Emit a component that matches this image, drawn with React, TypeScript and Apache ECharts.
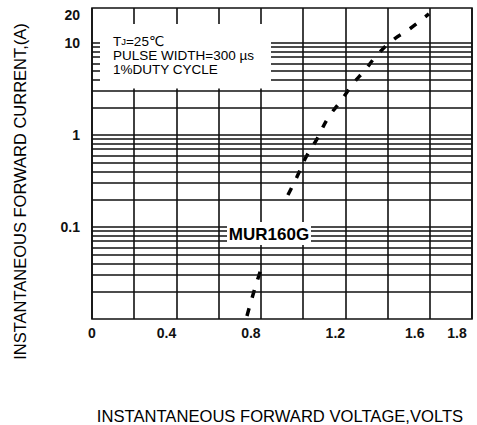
import { useEffect, useRef } from "react";
import * as echarts from "echarts";

// Axis tick labels
const xTickLabels = [0, 0.4, 0.8, 1.2, 1.6, 1.8];
const yTickLabels = [0.1, 1, 10, 20];

// Horizontal log grid lines (A)
const gridCurrents = [
  0.02, 0.03, 0.04, 0.05, 0.06, 0.07, 0.08, 0.09, 0.1,
  0.2, 0.3, 0.4, 0.5, 0.6, 0.7, 0.8, 0.9, 1,
  2, 3, 4, 5, 6, 7, 8, 9, 10,
];

// MUR160G forward characteristic, Tj = 25°C
const lowVoltage = [0.734, 0.772, 0.81];
const lowCurrent = [0.0108, 0.0217, 0.0406];
const highVoltage = [0.928, 0.971, 1.014, 1.066, 1.118, 1.175, 1.236, 1.293, 1.355, 1.426, 1.497, 1.596];
const highCurrent = [0.223, 0.351, 0.577, 0.905, 1.53, 2.28, 3.58, 5.09, 7.59, 10.8, 13.8, 20.7];

const FONT = "'Liberation Sans', Arial, 'DejaVu Sans', sans-serif";

export default function App() {
  const ref = useRef<HTMLDivElement>(null);

  useEffect(() => {
    if (!ref.current) return;
    const chart = echarts.init(ref.current, undefined, { renderer: "svg" });
    const lineCol = "#111";
    const curveStyle = { color: "#000", width: 3.5, type: [8, 11] as any };
    const tickFont = { fontFamily: FONT, fontSize: 14, fontWeight: "bold", color: "#111" };

    chart.setOption({
      animation: false,
      backgroundColor: "#fff",
      grid: {
        left: 92,
        right: 5,
        top: 8,
        bottom: 106,
        show: true,
        borderColor: lineCol,
        borderWidth: 1.6,
        backgroundColor: "transparent",
      },
      xAxis: {
        type: "value",
        min: 0,
        max: 1.8,
        interval: 0.2,
        axisLine: { show: false },
        axisTick: { show: false },
        splitLine: { show: true, lineStyle: { color: lineCol, width: 1.6 } },
        axisLabel: {
          customValues: xTickLabels,
          margin: 7,
          ...tickFont,
          formatter: (v: number) => {
            const s = String(v);
            if (v === 0) return s;
            return v >= 1.5 ? `{far|${s}}` : `{near|${s}}`;
          },
          rich: {
            near: { padding: [0, 20, 0, 0], ...tickFont },
            far: { padding: [0, 30, 0, 0], ...tickFont },
          },
        },
      },
      yAxis: {
        type: "log",
        logBase: 10,
        min: 0.01,
        max: 24,
        axisLine: { show: false },
        axisTick: { show: false },
        splitLine: { show: false },
        axisLabel: {
          customValues: yTickLabels,
          margin: 12,
          ...tickFont,
          formatter: (v: number) => String(v),
        },
      },
      series: [
        {
          type: "line",
          name: "low",
          data: lowVoltage.map((v, i) => [v, lowCurrent[i]]),
          showSymbol: false,
          smooth: true,
          z: 3,
          lineStyle: curveStyle,
          markLine: {
            silent: true,
            symbol: ["none", "none"],
            label: { show: false },
            lineStyle: { color: lineCol, width: 1.6, type: "solid" },
            data: gridCurrents.map((c) => ({ yAxis: c })),
          },
        },
        {
          type: "line",
          name: "high",
          data: highVoltage.map((v, i) => [v, highCurrent[i]]),
          showSymbol: false,
          smooth: true,
          z: 4,
          lineStyle: curveStyle,
        },
      ],
      graphic: [
        { type: "rect", z: 10, shape: { x: 100, y: 24, width: 171, height: 64.5 }, style: { fill: "#fff" } },
        { type: "rect", z: 10, shape: { x: 227, y: 222, width: 84, height: 23 }, style: { fill: "#fff" } },
        {
          type: "text", z: 11, x: 269, y: 234.5,
          style: { text: "MUR160G", font: `bold 17px ${FONT}`, fill: "#000", textAlign: "center", textVerticalAlign: "middle", align: "center", verticalAlign: "middle" },
        },
        {
          type: "text", z: 11, x: 113, y: 34.5,
          style: {
            text: "T{s|J}=25℃\nPULSE WIDTH=300 µs\n1%DUTY CYCLE",
            font: `13.5px ${FONT}`,
            fill: "#000",
            lineHeight: 14,
            textAlign: "left", textVerticalAlign: "top", align: "left", verticalAlign: "top",
            rich: { s: { fontSize: 9.5, fontFamily: FONT, fill: "#000", lineHeight: 14 } },
          },
        },
        {
          type: "text", z: 11, x: 20, y: 191.5, rotation: Math.PI / 2,
          style: { text: "INSTANTANEOUS FORWARD CURRENT,(A)", font: `16.5px ${FONT}`, fill: "#000", textAlign: "center", textVerticalAlign: "middle", align: "center", verticalAlign: "middle" },
        },
        {
          type: "text", z: 11, x: 280, y: 416,
          style: { text: "INSTANTANEOUS FORWARD VOLTAGE,VOLTS", font: `16.6px ${FONT}`, fill: "#000", textAlign: "center", textVerticalAlign: "middle", align: "center", verticalAlign: "middle" },
        },
      ],
    });

    return () => chart.dispose();
  }, []);

  return (
    <div
      ref={ref}
      style={{ position: "fixed", left: 0, top: 0, width: 477, height: 425, background: "#fff" }}
    />
  );
}
